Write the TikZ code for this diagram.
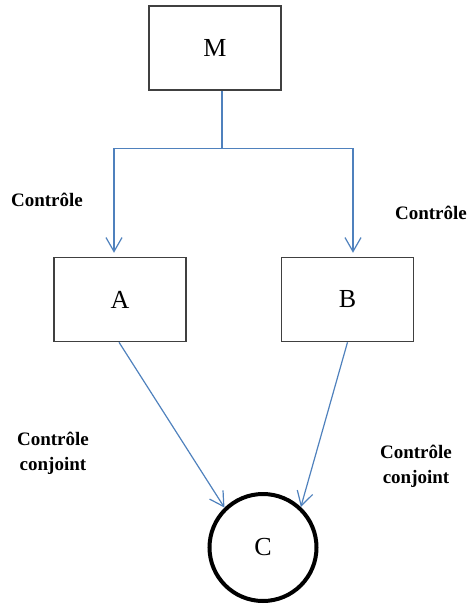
\documentclass[tikz,border=0pt]{standalone}
\usepackage{fontspec}
\setmainfont{Liberation Serif}
\usepackage{xcolor}
\usepackage{tikz}
\usetikzlibrary{arrows.meta,positioning}
\definecolor{ctlblue}{RGB}{79,129,189}
\tikzset{
  blk/.style={draw=black!75, line width=1.5pt, minimum width=132pt, minimum height=84pt, inner sep=0pt, font=\fontsize{26}{28}\selectfont},
  firm/.style={draw, circle, line width=4pt, minimum size=107pt, inner sep=0pt, font=\fontsize{26}{28}\selectfont},
  lbl/.style={align=center, font=\bfseries\fontsize{19}{25}\selectfont},
  arrow/.style={-{Straight Barb[length=14pt, width=16pt]}, ctlblue, line width=1.2pt}
}

\begin{document}
\begin{tikzpicture}[x=1pt, y=1pt]
    \useasboundingbox (0,0) rectangle (476,-606);
    % M box
    \node[blk] (M) at (215,-48) {M};
    % A and B
    \node[blk, below=166pt of M, xshift=-95pt] (A) {A};
    \node[blk, below=166pt of M, xshift=132.5pt] (B) {B};
    % C circle
    \node[firm] (C) at (263,-547.5) {C};

    % arrows
    \coordinate[below=58pt of M.south, xshift=7pt] (split);
    \draw[ctlblue, line width=1.2pt] ([xshift=7pt]M.south) -- (split);
    \draw[arrow, shorten >=4pt] (split) -| ([xshift=-6pt]A.north);
    \draw[arrow, shorten >=4pt] (split) -| ([xshift=5.5pt]B.north);
    \draw[arrow] ([xshift=-1pt]A.south) -- (C.134);
    \draw[arrow] (B.south) -- (C.47);

    % labels
    \node[lbl] (ctlA) at (47,-200) {Contrôle};
    \node[lbl] (ctlB) at (431,-213) {Contrôle};
    \node[lbl] (jointA) at (53,-453) {Contrôle\\conjoint};
    \node[lbl] (jointB) at (416,-466) {Contrôle\\conjoint};
  \end{tikzpicture}
\end{document}
